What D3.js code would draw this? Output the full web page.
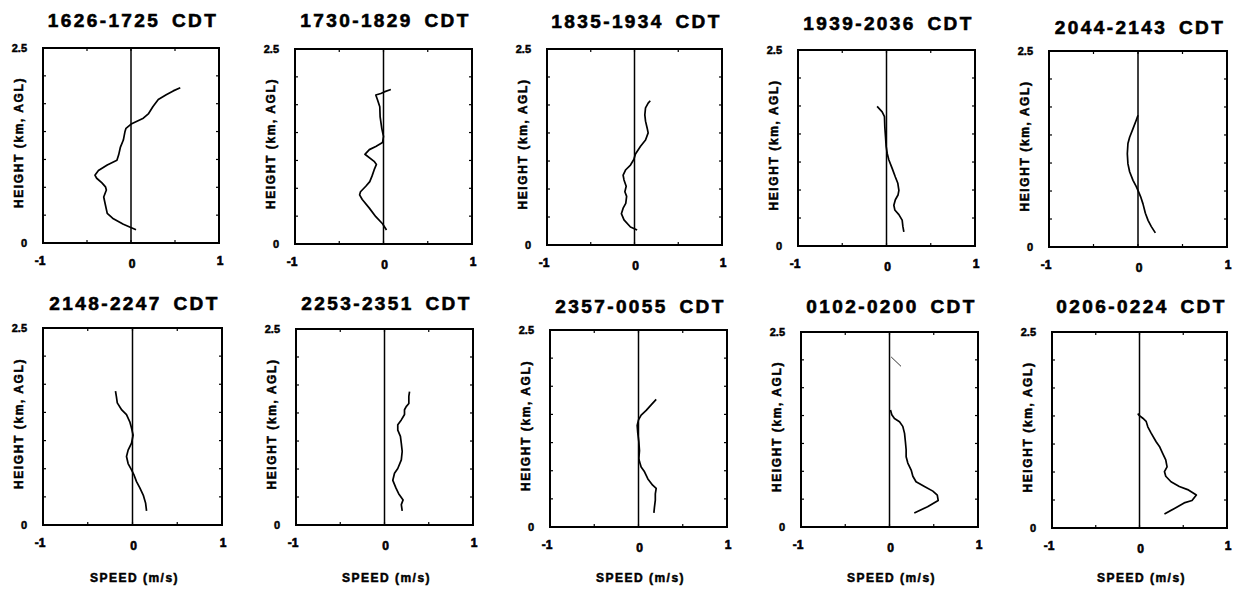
<!DOCTYPE html>
<html>
<head>
<meta charset="utf-8">
<script src="https://cdn.jsdelivr.net/npm/d3@7"></script>
<style>
  html, body { margin: 0; padding: 0; background: #fff; }
  svg { display: block; font-family: "Liberation Sans", Arial, sans-serif; }
</style>
</head>
<body>
<svg id="chart" width="1240" height="590"></svg>
<script>
// ---------- data ----------
const titles = [
  "1626-1725 CDT", "1730-1829 CDT", "1835-1934 CDT", "1939-2036 CDT", "2044-2143 CDT",
  "2148-2247 CDT", "2253-2351 CDT", "2357-0055 CDT", "0102-0200 CDT", "0206-0224 CDT"
];
const xTicks = [-1, 0, 1];
const yTickLabels = [[0, "0"], [2.5, "2.5"]];
const xMinorTicks = [-0.5, 0, 0.5];
const yMinorTicks = [0.357, 0.714, 1.071, 1.429, 1.786, 2.143];
const xLabel = "SPEED (m/s)";
const yLabel = "HEIGHT (km, AGL)";

// profiles: [speed m/s, height km]
const p1 = [[0.057,0.17],[-0.087,0.24],[-0.2,0.31],[-0.27,0.38],[-0.295,0.51],[-0.31,0.59],[-0.28,0.68],[-0.29,0.72],[-0.33,0.77],[-0.39,0.83],[-0.41,0.87],[-0.37,0.93],[-0.27,1.0],[-0.16,1.06],[-0.14,1.13],[-0.12,1.23],[-0.087,1.32],[-0.068,1.43],[-0.057,1.47],[0.008,1.53],[0.14,1.60],[0.2,1.66],[0.25,1.75],[0.31,1.84],[0.40,1.90],[0.48,1.95],[0.56,1.99]];
const p2 = [[0.034,0.18],[-0.011,0.26],[-0.087,0.35],[-0.16,0.46],[-0.24,0.57],[-0.27,0.63],[-0.26,0.67],[-0.2,0.74],[-0.155,0.80],[-0.13,0.87],[-0.106,0.95],[-0.08,1.02],[-0.106,1.06],[-0.21,1.15],[-0.16,1.21],[-0.087,1.25],[-0.011,1.30],[0,1.38],[-0.019,1.48],[-0.038,1.63],[-0.042,1.76],[-0.068,1.85],[-0.087,1.91],[-0.03,1.93],[0.008,1.95],[0.083,1.98]];
const p3 = [[0.03,0.19],[-0.046,0.23],[-0.12,0.32],[-0.15,0.40],[-0.13,0.47],[-0.10,0.53],[-0.09,0.62],[-0.11,0.68],[-0.095,0.75],[-0.12,0.83],[-0.13,0.89],[-0.10,0.96],[-0.046,1.02],[-0.008,1.09],[0.011,1.16],[0.069,1.26],[0.126,1.34],[0.156,1.43],[0.145,1.49],[0.126,1.58],[0.118,1.66],[0.126,1.75],[0.156,1.81],[0.18,1.84]];
const p4 = [[0.196,0.18],[0.185,0.25],[0.177,0.33],[0.14,0.40],[0.094,0.46],[0.083,0.52],[0.10,0.59],[0.13,0.65],[0.14,0.71],[0.128,0.80],[0.10,0.88],[0.064,0.99],[0.026,1.10],[0.008,1.18],[-0.004,1.27],[-0.011,1.39],[-0.019,1.52],[-0.023,1.65],[-0.049,1.71],[-0.106,1.78]];
const p5 = [[0.195,0.18],[0.15,0.26],[0.113,0.34],[0.083,0.43],[0.056,0.55],[0.03,0.64],[0.008,0.70],[-0.019,0.77],[-0.056,0.85],[-0.094,0.96],[-0.113,1.06],[-0.12,1.19],[-0.113,1.32],[-0.094,1.40],[-0.056,1.51],[-0.019,1.62],[0,1.68]];
const p6 = [[0.157,0.18],[0.146,0.28],[0.12,0.38],[0.082,0.47],[0.045,0.55],[0.015,0.64],[-0.011,0.70],[-0.049,0.78],[-0.067,0.87],[-0.049,0.95],[-0.011,1.04],[0.007,1.14],[-0.011,1.23],[-0.03,1.31],[-0.067,1.40],[-0.12,1.46],[-0.17,1.55],[-0.18,1.63],[-0.19,1.70]];
const p7 = [[0.2,0.18],[0.19,0.26],[0.21,0.32],[0.16,0.40],[0.13,0.47],[0.094,0.57],[0.113,0.66],[0.15,0.72],[0.19,0.83],[0.2,0.94],[0.19,1.04],[0.18,1.13],[0.15,1.21],[0.15,1.28],[0.19,1.34],[0.226,1.41],[0.226,1.47],[0.245,1.51],[0.275,1.55],[0.275,1.64],[0.283,1.70]];
const p8 = [[0.174,0.18],[0.18,0.25],[0.19,0.34],[0.19,0.42],[0.2,0.49],[0.16,0.53],[0.106,0.61],[0.068,0.70],[0.03,0.76],[0.011,0.83],[0.004,0.87],[0.011,0.97],[0.004,1.08],[-0.008,1.19],[-0.015,1.29],[0,1.36],[0.03,1.42],[0.087,1.48],[0.143,1.55],[0.2,1.62]];
const p9 = [[0.28,0.18],[0.43,0.26],[0.55,0.34],[0.54,0.41],[0.49,0.46],[0.395,0.52],[0.30,0.58],[0.264,0.65],[0.245,0.73],[0.207,0.82],[0.188,0.90],[0.188,0.99],[0.18,1.09],[0.17,1.20],[0.15,1.29],[0.113,1.35],[0.056,1.39],[0.026,1.44],[0.011,1.50]];
const p9b = [[0.019,2.18],[0.13,2.06]];
const p10 = [[0.285,0.18],[0.40,0.25],[0.51,0.32],[0.6,0.35],[0.65,0.42],[0.55,0.49],[0.455,0.53],[0.36,0.59],[0.30,0.66],[0.285,0.72],[0.315,0.78],[0.30,0.87],[0.266,0.95],[0.228,1.04],[0.19,1.10],[0.133,1.21],[0.095,1.29],[0.076,1.36],[0.038,1.40],[-0.008,1.44],[-0.019,1.46]];

const profiles = [[p1],[p2],[p3],[p4],[p5],[p6],[p7],[p8],[p9, p9b],[p10]];

// ---------- layout (box left, top, right, bottom, title baseline) ----------
const boxes = [
  [43, 48, 219, 243, 27], [295, 49, 472, 244, 27], [547, 49, 722, 245, 28], [798, 50, 975, 246, 30], [1049, 51, 1227, 247, 34],
  [43, 328, 222, 525, 310], [296, 329, 473, 525, 310], [550, 330, 727, 527, 313], [801, 332, 978, 527, 313], [1052, 332, 1227, 528, 313]
];

const svg = d3.select("#chart");

function heavy(sel, w) {
  return sel.attr("stroke", "#000").attr("stroke-width", w).attr("paint-order", "stroke");
}

profiles.forEach((series, i) => {
  const [L, T, R, B, tb] = boxes[i];
  const x = d3.scaleLinear().domain([-1, 1]).range([L, R]);
  const y = d3.scaleLinear().domain([0, 2.5]).range([B, T]);
  const g = svg.append("g");

  // title
  heavy(g.append("text")
    .attr("x", (L + R) / 2 + 2).attr("y", tb)
    .attr("text-anchor", "middle")
    .attr("font-size", 19).attr("font-weight", "bold")
    .attr("letter-spacing", 2.4).attr("word-spacing", 4)
    .text(titles[i]), 0.6);

  // minor ticks inside box
  yMinorTicks.forEach(v => {
    g.append("line").attr("x1", L).attr("x2", L + 3).attr("y1", y(v)).attr("y2", y(v)).attr("stroke", "#000").attr("stroke-width", 1.2);
    g.append("line").attr("x1", R).attr("x2", R - 3).attr("y1", y(v)).attr("y2", y(v)).attr("stroke", "#000").attr("stroke-width", 1.2);
  });
  xMinorTicks.forEach(v => {
    g.append("line").attr("x1", x(v)).attr("x2", x(v)).attr("y1", B).attr("y2", B - 3).attr("stroke", "#000").attr("stroke-width", 1.2);
    g.append("line").attr("x1", x(v)).attr("x2", x(v)).attr("y1", T).attr("y2", T + 3).attr("stroke", "#000").attr("stroke-width", 1.2);
  });

  // box
  g.append("rect").attr("x", L).attr("y", T).attr("width", R - L).attr("height", B - T)
    .attr("fill", "none").attr("stroke", "#000").attr("stroke-width", 2);

  // zero line
  g.append("line").attr("x1", x(0)).attr("x2", x(0)).attr("y1", T).attr("y2", B)
    .attr("stroke", "#000").attr("stroke-width", 1.5);

  // y tick labels
  yTickLabels.forEach(([v, s]) => {
    heavy(g.append("text").attr("x", L - 16).attr("y", y(v) + 4)
      .attr("text-anchor", "end").attr("font-size", 11).attr("font-weight", "bold")
      .text(s), 0.5);
  });

  // x tick labels
  xTicks.forEach(v => {
    heavy(g.append("text").attr("x", x(v) + (v === -1 ? -3 : 1)).attr("y", B + (v === 0 ? 25 : 22))
      .attr("text-anchor", "middle").attr("font-size", 12).attr("font-weight", "bold")
      .text(v === -1 ? "-1" : String(v)), 0.6);
  });

  // y axis label
  heavy(g.append("text")
    .attr("transform", `translate(${L - 20},${(T + B) / 2 - 3}) rotate(-90)`)
    .attr("text-anchor", "middle").attr("font-size", 12).attr("font-weight", "bold")
    .attr("letter-spacing", 1.6)
    .text(yLabel), 0.5);

  // x axis label (bottom row)
  if (i >= 5) {
    heavy(g.append("text").attr("x", (L + R) / 2 + 2).attr("y", 582)
      .attr("text-anchor", "middle").attr("font-size", 12).attr("font-weight", "bold")
      .attr("letter-spacing", 1.5)
      .text(xLabel), 0.5);
  }

  // profiles
  const line = d3.line().x(d => x(d[0])).y(d => y(d[1]));
  series.forEach((s, k) => {
    g.append("path").datum(s).attr("d", line)
      .attr("fill", "none").attr("stroke", "#000")
      .attr("stroke-width", k === 0 ? 1.7 : 0.8)
      .attr("stroke-linejoin", "round");
  });
});
</script>
</body>
</html>
